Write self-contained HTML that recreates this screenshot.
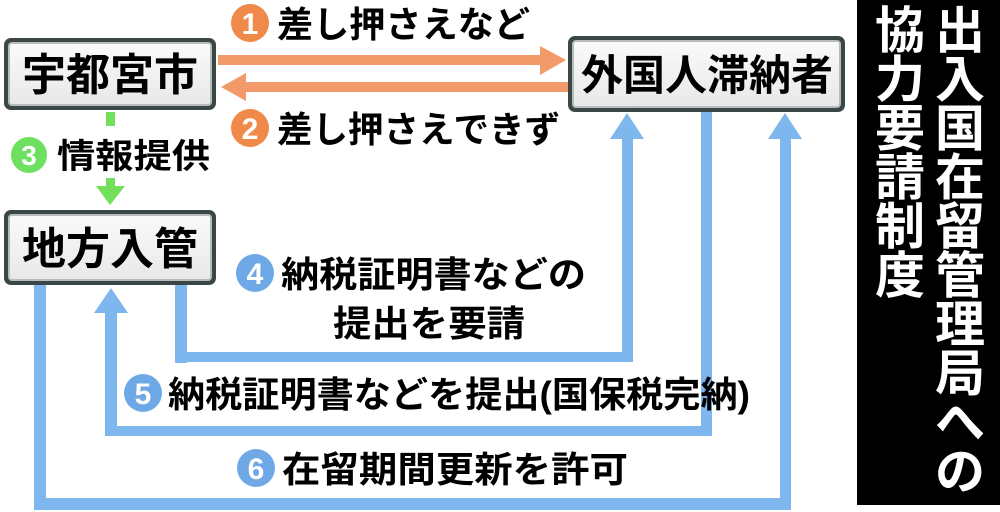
<!DOCTYPE html>
<html><head><meta charset="utf-8"><style>
html,body{margin:0;padding:0;background:#fff;}
svg{display:block;}
text{font-family:"Liberation Sans","Noto Sans CJK JP",sans-serif;}
</style></head><body>
<svg width="1000" height="512" viewBox="0 0 1000 512" xmlns="http://www.w3.org/2000/svg">
<defs>
<linearGradient id="g" x1="0" y1="0" x2="0" y2="1">
<stop offset="0" stop-color="#fafafa"/><stop offset="1" stop-color="#e8e8e8"/>
</linearGradient>
</defs>
<rect width="1000" height="512" fill="#fff"/>
<rect x="218" y="55" width="325" height="10" fill="#f39a6b"/>
<polygon points="540,46 566,60 540,75" fill="#f39a6b"/>
<rect x="243" y="82" width="325" height="10" fill="#f39a6b"/>
<polygon points="246,73 221,87 246,101" fill="#f39a6b"/>
<rect x="106" y="112" width="9" height="14" fill="#72e05a"/>
<rect x="106" y="178" width="9" height="10" fill="#72e05a"/>
<polygon points="96,186 125,186 110,205" fill="#72e05a"/>
<g fill="#7db7ee">
<rect x="34" y="285" width="12" height="225" />
<rect x="34" y="498" width="757" height="12"/>
<rect x="780" y="135" width="11" height="375"/>
<polygon points="768,139 785,113 802,139"/>
<rect x="701" y="110" width="11" height="326"/>
<rect x="105" y="426" width="607" height="10"/>
<rect x="105" y="310" width="12" height="126"/>
<polygon points="94,313 111,288 128,313"/>
<rect x="175" y="285" width="12" height="78"/>
<rect x="175" y="352" width="457" height="10"/>
<rect x="622" y="135" width="11" height="227"/>
<polygon points="610,139 627,113 644,139"/>
</g>
<g>
<rect x="4" y="38" width="212" height="72" rx="7" fill="#3b4646"/>
<rect x="9" y="43" width="202" height="62" rx="3" fill="url(#g)" stroke="#b8bcbc" stroke-width="2"/>
<text x="110" y="90" font-size="44" font-weight="bold" text-anchor="middle" fill="#000">宇都宮市</text>
<rect x="4" y="210" width="212" height="75" rx="7" fill="#3b4646"/>
<rect x="9" y="215" width="202" height="65" rx="3" fill="url(#g)" stroke="#b8bcbc" stroke-width="2"/>
<text x="110" y="264" font-size="44" font-weight="bold" text-anchor="middle" fill="#000">地方入管</text>
<rect x="568" y="36" width="277" height="76" rx="7" fill="#3b4646"/>
<rect x="573" y="41" width="267" height="66" rx="3" fill="url(#g)" stroke="#b8bcbc" stroke-width="2"/>
<text x="707" y="90" font-size="42" font-weight="bold" text-anchor="middle" fill="#000">外国人滞納者</text>
</g>
<g font-size="36" fill="#000" font-weight="bold">
<circle cx="250" cy="23" r="19" fill="#ef8a4a"/><text x="250" y="34" font-size="30" fill="#fff" text-anchor="middle">1</text>
<text x="277" y="37" textLength="253" lengthAdjust="spacingAndGlyphs">差し押さえなど</text>
<circle cx="250" cy="128" r="19" fill="#ef8a4a"/><text x="250" y="139" font-size="30" fill="#fff" text-anchor="middle">2</text>
<text x="277" y="142" textLength="283" lengthAdjust="spacingAndGlyphs">差し押さえできず</text>
<circle cx="29" cy="155" r="18" fill="#6ee060"/><text x="29" y="165" font-size="28" fill="#fff" text-anchor="middle">3</text>
<text x="57" y="168" font-size="34" textLength="153" lengthAdjust="spacingAndGlyphs">情報提供</text>
<circle cx="255" cy="273" r="19" fill="#6ea8e6"/><text x="255" y="284" font-size="30" fill="#fff" text-anchor="middle">4</text>
<text x="281" y="287" textLength="305" lengthAdjust="spacingAndGlyphs">納税証明書などの</text>
<text x="333" y="336" textLength="192" lengthAdjust="spacingAndGlyphs">提出を要請</text>
<circle cx="143" cy="393" r="19" fill="#6ea8e6"/><text x="143" y="404" font-size="30" fill="#fff" text-anchor="middle">5</text>
<text x="168" y="407" textLength="582" lengthAdjust="spacingAndGlyphs">納税証明書などを提出(国保税完納)</text>
<circle cx="256" cy="468" r="19" fill="#6ea8e6"/><text x="256" y="479" font-size="30" fill="#fff" text-anchor="middle">6</text>
<text x="282" y="482" textLength="346" lengthAdjust="spacingAndGlyphs">在留期間更新を許可</text>
</g>
<rect x="857" y="0" width="143" height="505" fill="#000"/>
<g font-size="50" font-weight="bold" fill="#fff" text-anchor="middle">
<text x="960" y="48">出</text><text x="960" y="97">入</text><text x="960" y="146">国</text><text x="960" y="195">在</text><text x="960" y="244">留</text><text x="960" y="293">管</text><text x="960" y="342">理</text><text x="960" y="391">局</text><text x="960" y="440">へ</text><text x="960" y="489">の</text>
<text x="900" y="48">協</text><text x="900" y="97">力</text><text x="900" y="146">要</text><text x="900" y="195">請</text><text x="900" y="244">制</text><text x="900" y="293">度</text>
</g>
</svg>
</body></html>
